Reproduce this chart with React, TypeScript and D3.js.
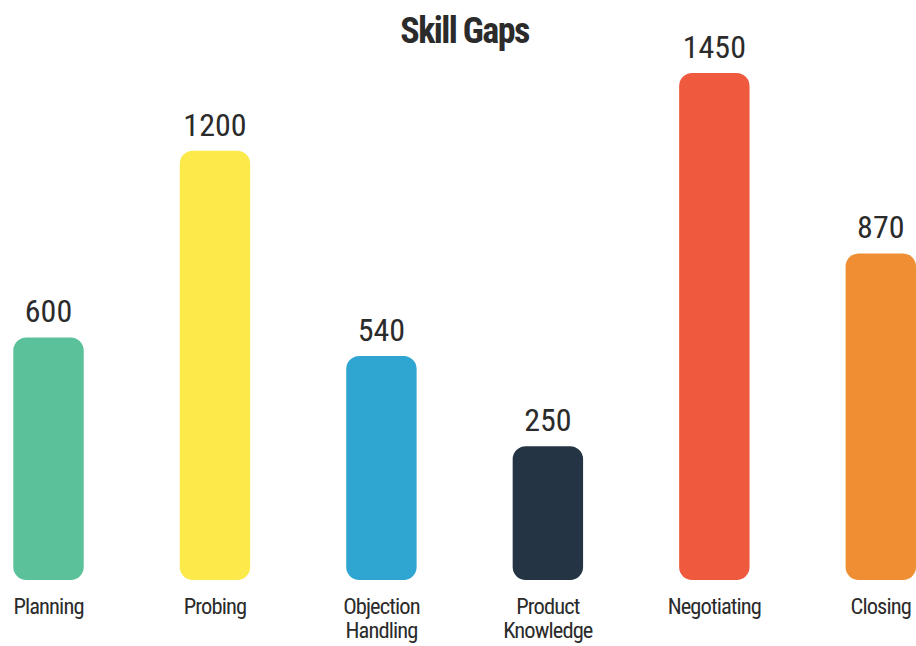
import React from "react";
import * as d3 from "d3";

const categories: string[][] = [
  ["Planning"],
  ["Probing"],
  ["Objection", "Handling"],
  ["Product", "Knowledge"],
  ["Negotiating"],
  ["Closing"],
];
const values: number[] = [600, 1200, 540, 250, 1450, 870];
const colors: string[] = ["#5BC19B", "#FBEA4A", "#2FA5D1", "#243444", "#EF5A3F", "#EF8E33"];
const title = "Skill Gaps";

const W = 916;
const H = 646;
const FONT = "'Liberation Sans Narrow', 'Arial Narrow', 'Roboto Condensed', sans-serif";

export default function App() {
  const keys = categories.map((c) => c.join(" "));
  const x = d3.scaleBand<string>().domain(keys).range([13.3, 916]).paddingInner(0.577).paddingOuter(0);
  const baseY = 580;
  const y = d3.scaleLinear().domain([0, 1450]).range([524, 73]);
  const r = 13;

  const barPath = (x0: number, y0: number, w: number, y1: number) => {
    const p = d3.path();
    p.moveTo(x0 + r, y0);
    p.lineTo(x0 + w - r, y0);
    p.arcTo(x0 + w, y0, x0 + w, y0 + r, r);
    p.lineTo(x0 + w, y1 - r);
    p.arcTo(x0 + w, y1, x0 + w - r, y1, r);
    p.lineTo(x0 + r, y1);
    p.arcTo(x0, y1, x0, y1 - r, r);
    p.lineTo(x0, y0 + r);
    p.arcTo(x0, y0, x0 + r, y0, r);
    p.closePath();
    return p.toString();
  };

  return (
    <svg width={W} height={H} style={{ position: "absolute", left: 0, top: 0 }} fontFamily={FONT}>
      <rect width={W} height={H} fill="#ffffff" />
      <text x={464.5} y={43} textAnchor="middle" fontSize={36} fontWeight="bold" fill="#2b2b2b" letterSpacing={-1.6}>
        {title}
      </text>
      {keys.map((k, i) => {
        const bx = x(k)!;
        const bw = x.bandwidth();
        const top = y(values[i]);
        const cx = bx + bw / 2;
        return (
          <g key={k}>
            <path d={barPath(bx, top, bw, baseY)} fill={colors[i]} />
            <text x={cx} y={top - 15} textAnchor="middle" fontSize={32} fill="#2b2b2b">
              {values[i]}
            </text>
            {categories[i].map((line, j) => (
              <text key={j} x={cx} y={614 + j * 24} textAnchor="middle" fontSize={22.5} fill="#2b2b2b" letterSpacing={-0.9}>
                {line}
              </text>
            ))}
          </g>
        );
      })}
    </svg>
  );
}
